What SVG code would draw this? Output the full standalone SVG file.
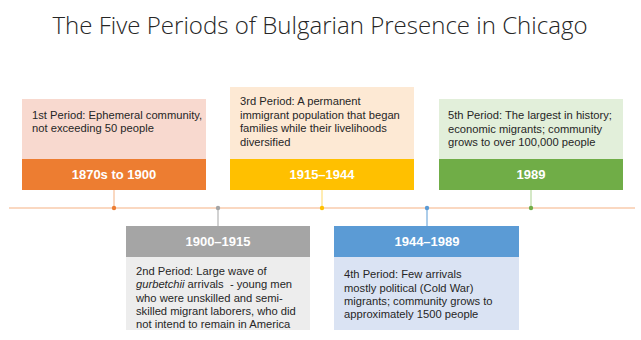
<svg xmlns="http://www.w3.org/2000/svg" width="641" height="340" viewBox="0 0 641 340">
<style>
.title{font-family:"Open Sans","Liberation Sans",sans-serif;font-weight:300;font-size:24px;fill:#262626}
.body{font-family:"Liberation Sans",Arial,sans-serif;font-size:11.2px;fill:#262626}
.head{font-family:"Liberation Sans",Arial,sans-serif;font-size:13px;font-weight:bold;fill:#ffffff}
</style>
<rect width="641" height="340" fill="#ffffff"/>
<text class="title" x="320" y="34" text-anchor="middle" textLength="535" lengthAdjust="spacingAndGlyphs">The Five Periods of Bulgarian Presence in Chicago</text>
<g id="connectors">
<line x1="9" y1="208" x2="635" y2="208" stroke="#f8cbad" stroke-width="1.5"/>
<line x1="114" y1="190" x2="114" y2="208" stroke="#f4b183" stroke-width="1"/>
<line x1="218" y1="208" x2="218" y2="226" stroke="#a5a5a5" stroke-width="1"/>
<line x1="322" y1="190" x2="322" y2="208" stroke="#ffd966" stroke-width="1"/>
<line x1="427" y1="208" x2="427" y2="226" stroke="#5b9bd5" stroke-width="1"/>
<line x1="531" y1="190" x2="531" y2="208" stroke="#a9d18e" stroke-width="1"/>
<circle cx="114" cy="208" r="2.2" fill="#ed7d31"/>
<circle cx="218" cy="208" r="2.2" fill="#a5a5a5"/>
<circle cx="322" cy="208" r="2.2" fill="#ffc000"/>
<circle cx="427" cy="208" r="2.2" fill="#5b9bd5"/>
<circle cx="531" cy="208" r="2.2" fill="#70ad47"/>
</g>
<g id="period1">
<rect x="22" y="99" width="184" height="60" fill="#f8d9cf"/>
<rect x="22" y="159" width="184" height="31" fill="#ed7d31"/>
<text class="body" x="32" y="119">1st Period: Ephemeral community,</text>
<text class="body" x="32" y="132">not exceeding 50 people</text>
<text class="head" x="114" y="179" text-anchor="middle">1870s to 1900</text>
</g>
<g id="period2">
<rect x="126" y="226" width="184" height="31" fill="#a5a5a5"/>
<rect x="126" y="257" width="184" height="73" fill="#ededed"/>
<text class="head" x="218" y="246" text-anchor="middle">1900–1915</text>
<text class="body" x="136" y="275">2nd Period: Large wave of</text>
<text class="body" x="136" y="288" xml:space="preserve"><tspan font-style="italic">gurbetchii</tspan> arrivals  - young men</text>
<text class="body" x="136" y="302">who were unskilled and semi-</text>
<text class="body" x="136" y="315">skilled migrant laborers, who did</text>
<text class="body" x="136" y="328">not intend to remain in America</text>
</g>
<g id="period3">
<rect x="230" y="87" width="184" height="72" fill="#fde9d4"/>
<rect x="230" y="159" width="184" height="31" fill="#ffc000"/>
<text class="body" x="240" y="105">3rd Period: A permanent</text>
<text class="body" x="240" y="119">immigrant population that began</text>
<text class="body" x="240" y="132">families while their livelihoods</text>
<text class="body" x="240" y="146">diversified</text>
<text class="head" x="322" y="179" text-anchor="middle">1915–1944</text>
</g>
<g id="period4">
<rect x="334" y="226" width="185" height="31" fill="#5b9bd5"/>
<rect x="334" y="257" width="185" height="73" fill="#dae3f3"/>
<text class="head" x="427" y="246" text-anchor="middle">1944–1989</text>
<text class="body" x="344" y="278">4th Period: Few arrivals</text>
<text class="body" x="344" y="292">mostly political (Cold War)</text>
<text class="body" x="344" y="305">migrants; community grows to</text>
<text class="body" x="344" y="318">approximately 1500 people</text>
</g>
<g id="period5">
<rect x="439" y="99" width="184" height="60" fill="#e2efda"/>
<rect x="439" y="159" width="184" height="31" fill="#70ad47"/>
<text class="body" x="448" y="119">5th Period: The largest in history;</text>
<text class="body" x="448" y="133">economic migrants; community</text>
<text class="body" x="448" y="146">grows to over 100,000 people</text>
<text class="head" x="531" y="179" text-anchor="middle">1989</text>
</g>
</svg>
